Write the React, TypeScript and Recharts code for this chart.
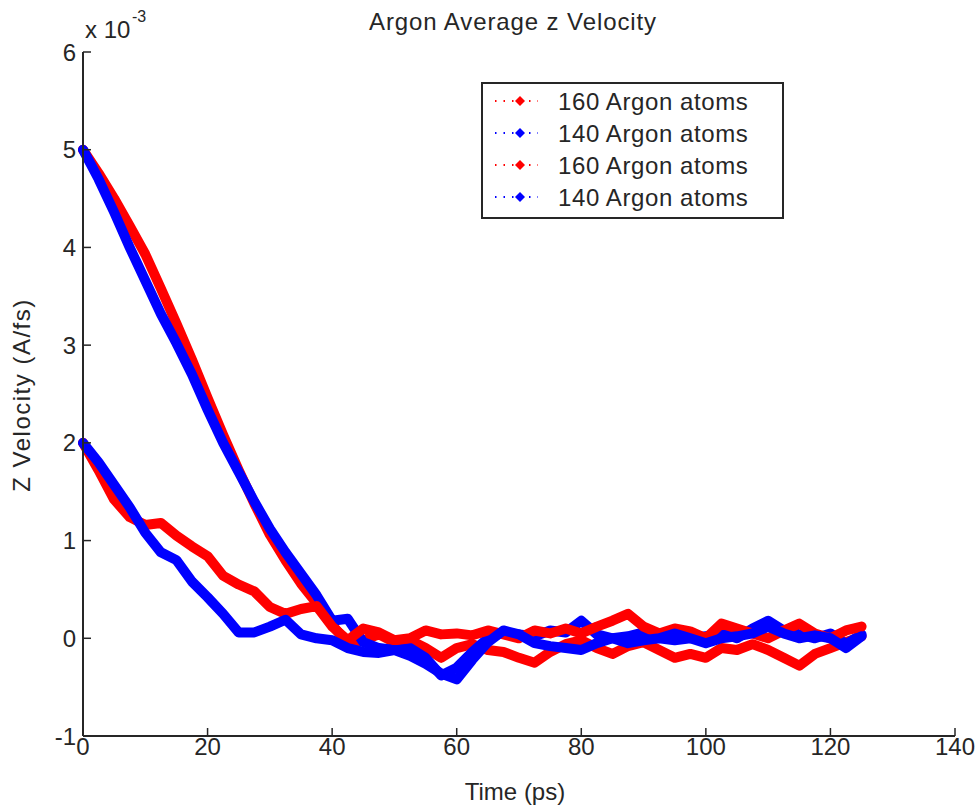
import React from 'react';
import { LineChart, Line, XAxis, YAxis, Legend } from 'recharts';

// time in ps, velocities in units of 1e-3 A/fs
const times = [
  0, 2.5, 5, 7.5, 10, 12.5, 15, 17.5, 20, 22.5, 25, 27.5, 30, 32.5, 35, 37.5, 40,
  42.5, 45, 47.5, 50, 52.5, 55, 57.5, 60, 62.5, 65, 67.5, 70, 72.5, 75, 77.5, 80,
  82.5, 85, 87.5, 90, 92.5, 95, 97.5, 100, 102.5, 105, 107.5, 110, 112.5, 115,
  117.5, 120, 122.5, 125,
];

const red160a = [
  5.0, 4.76, 4.5, 4.22, 3.93, 3.58, 3.22, 2.85, 2.46, 2.08, 1.72, 1.38, 1.06, 0.8, 0.56, 0.36, 0.14,
  -0.06, -0.02, 0.04, -0.04, -0.02, -0.1, -0.2, -0.1, -0.06, -0.12, -0.14, -0.2, -0.25, -0.14, -0.06, -0.02,
  -0.1, -0.16, -0.08, -0.04, -0.12, -0.2, -0.16, -0.2, -0.1, -0.12, -0.06, -0.12, -0.2, -0.28,
  -0.16, -0.1, -0.04, 0.02,
];

const blue140a = [
  5.0, 4.7, 4.36, 4.0, 3.66, 3.32, 3.02, 2.7, 2.34, 2.0, 1.7, 1.4, 1.12, 0.88, 0.66, 0.44, 0.18,
  0.2, -0.04, -0.1, -0.12, -0.1, -0.2, -0.38, -0.3, -0.14, 0.0, 0.06, 0.04, 0.02, 0.08, 0.06, 0.18,
  0.04, 0.0, 0.02, 0.06, 0.0, -0.02, 0.0, 0.02, 0.06, 0.0, 0.1, 0.18, 0.08, 0.04,
  0.0, 0.05, -0.06, 0.04,
];

const red160b = [
  2.0, 1.72, 1.42, 1.24, 1.16, 1.18, 1.05, 0.94, 0.84, 0.64, 0.55, 0.48, 0.32, 0.25, 0.3, 0.33, 0.12,
  -0.02, 0.1, 0.06, -0.02, 0.0, 0.08, 0.04, 0.05, 0.03, 0.08, 0.04, 0.0, 0.08, 0.05, 0.1, 0.05,
  0.12, 0.18, 0.25, 0.12, 0.05, 0.1, 0.07, 0.0, 0.15, 0.1, 0.05, 0.0, 0.08, 0.15,
  0.05, 0.0, 0.08, 0.12,
];

const blue140b = [
  2.0, 1.8, 1.57, 1.34, 1.08, 0.88, 0.8, 0.58, 0.42, 0.25, 0.06, 0.06, 0.12, 0.19, 0.04, 0.0, -0.02,
  -0.1, -0.14, -0.15, -0.12, -0.18, -0.26, -0.36, -0.42, -0.22, -0.04, 0.08, 0.04, -0.05, -0.08, -0.1, -0.12,
  -0.05, 0.0, -0.05, -0.02, 0.0, 0.05, 0.0, -0.05, 0.0, 0.02, 0.05, 0.12, 0.05, 0.0,
  0.03, 0.0, -0.1, 0.02,
];

const xTicks = [0, 20, 40, 60, 80, 100, 120, 140];
const yTicks = [-1, 0, 1, 2, 3, 4, 5, 6];

const legendNames = ['160 Argon atoms', '140 Argon atoms', '160 Argon atoms', '140 Argon atoms'];
const legendColors = ['#ff0000', '#0000ff', '#ff0000', '#0000ff'];

const rows = times.map((t, i) => ({
  t,
  ra: red160a[i],
  ba: blue140a[i],
  rb: red160b[i],
  bb: blue140b[i],
}));

const FONT = 'Arial, "Liberation Sans", Helvetica, sans-serif';
const INK = '#262626';

const YTick = (props: any) => {
  const { x, y, payload } = props;
  return (
    <g>
      <line x1={x} y1={y} x2={x + 8} y2={y} stroke={INK} strokeWidth={1.5} />
      <text x={x - 7} y={y + 8.5} textAnchor="end" fontSize={24} fontFamily={FONT} fill={INK}>
        {payload.value}
      </text>
    </g>
  );
};

const XTick = (props: any) => {
  const { x, y, payload } = props;
  return (
    <g>
      <line x1={x} y1={y} x2={x} y2={y - 8} stroke={INK} strokeWidth={1.5} />
      <text x={x} y={y + 19} textAnchor="middle" fontSize={24} fontFamily={FONT} fill={INK}>
        {payload.value}
      </text>
    </g>
  );
};

// legend drawn in the plotting order (recharts sorts its payload by name)
const LegendBox = () => (
  <svg width={303} height={137} style={{ display: 'block' }}>
    <rect x={1} y={1} width={301} height={135} fill="#fff" stroke={INK} strokeWidth={2} />
    {legendNames.map((name, i) => {
      const cy = 19 + i * 32;
      const c = legendColors[i];
      return (
        <g key={i}>
          <line x1={14} y1={cy} x2={57} y2={cy} stroke={c} strokeWidth={2} strokeDasharray="1.5 7" />
          <path d={`M39 ${cy - 5} L44 ${cy} L39 ${cy + 5} L34 ${cy} Z`} fill={c} />
          <text x={77} y={cy + 8.5} fontSize={24} fontFamily={FONT} fill={INK} letterSpacing={0.6}>
            {name}
          </text>
        </g>
      );
    })}
  </svg>
);

const lineProps = {
  strokeWidth: 10,
  strokeLinejoin: 'round' as const,
  strokeLinecap: 'round' as const,
  dot: false,
  isAnimationActive: false,
};

export default function App() {
  return (
    <div style={{ position: 'absolute', left: 0, top: 0, width: 977, height: 809, background: '#fff' }}>
      <LineChart
        width={977}
        height={809}
        data={rows}
        margin={{ top: 52, right: 22, left: 0, bottom: 0 }}
      >
        <XAxis
          dataKey="t"
          type="number"
          domain={[0, 140]}
          ticks={xTicks}
          height={73}
          tickSize={0}
          tickMargin={0}
          tickLine={false}
          axisLine={{ stroke: INK, strokeWidth: 2 }}
          tick={<XTick />}
          interval={0}
        />
        <YAxis
          type="number"
          domain={[-1, 6]}
          ticks={yTicks}
          width={83}
          tickSize={0}
          tickMargin={0}
          tickLine={false}
          axisLine={{ stroke: INK, strokeWidth: 2 }}
          tick={<YTick />}
          interval={0}
        />
        <Legend
          layout="vertical"
          align="center"
          verticalAlign="middle"
          content={<LegendBox />}
          wrapperStyle={{ position: 'absolute', left: 481, top: 82, width: 303, height: 137 }}
        />
        <Line dataKey="ra" name={legendNames[0]} stroke={legendColors[0]} {...lineProps} />
        <Line dataKey="ba" name={legendNames[1]} stroke={legendColors[1]} {...lineProps} />
        <Line dataKey="rb" name={legendNames[2]} stroke={legendColors[2]} {...lineProps} />
        <Line dataKey="bb" name={legendNames[3]} stroke={legendColors[3]} {...lineProps} />
      </LineChart>
      <svg
        width={977}
        height={809}
        style={{ position: 'absolute', left: 0, top: 0, pointerEvents: 'none' }}
      >
        <text x={513} y={30} textAnchor="middle" fontSize={24} fontFamily={FONT} fill={INK} letterSpacing={0.9}>
          Argon Average z Velocity
        </text>
        <text x={85} y={38} fontSize={24} fontFamily={FONT} fill={INK}>
          x 10
        </text>
        <text x={132} y={22} fontSize={16} fontFamily={FONT} fill={INK}>
          -3
        </text>
        <text x={515} y={800} textAnchor="middle" fontSize={24} fontFamily={FONT} fill={INK}>
          Time (ps)
        </text>
        <text
          x={30}
          y={395}
          textAnchor="middle"
          fontSize={24}
          fontFamily={FONT}
          fill={INK}
          letterSpacing={1.5}
          transform="rotate(-90 30 395)"
        >
          Z Velocity (A/fs)
        </text>
      </svg>
    </div>
  );
}
